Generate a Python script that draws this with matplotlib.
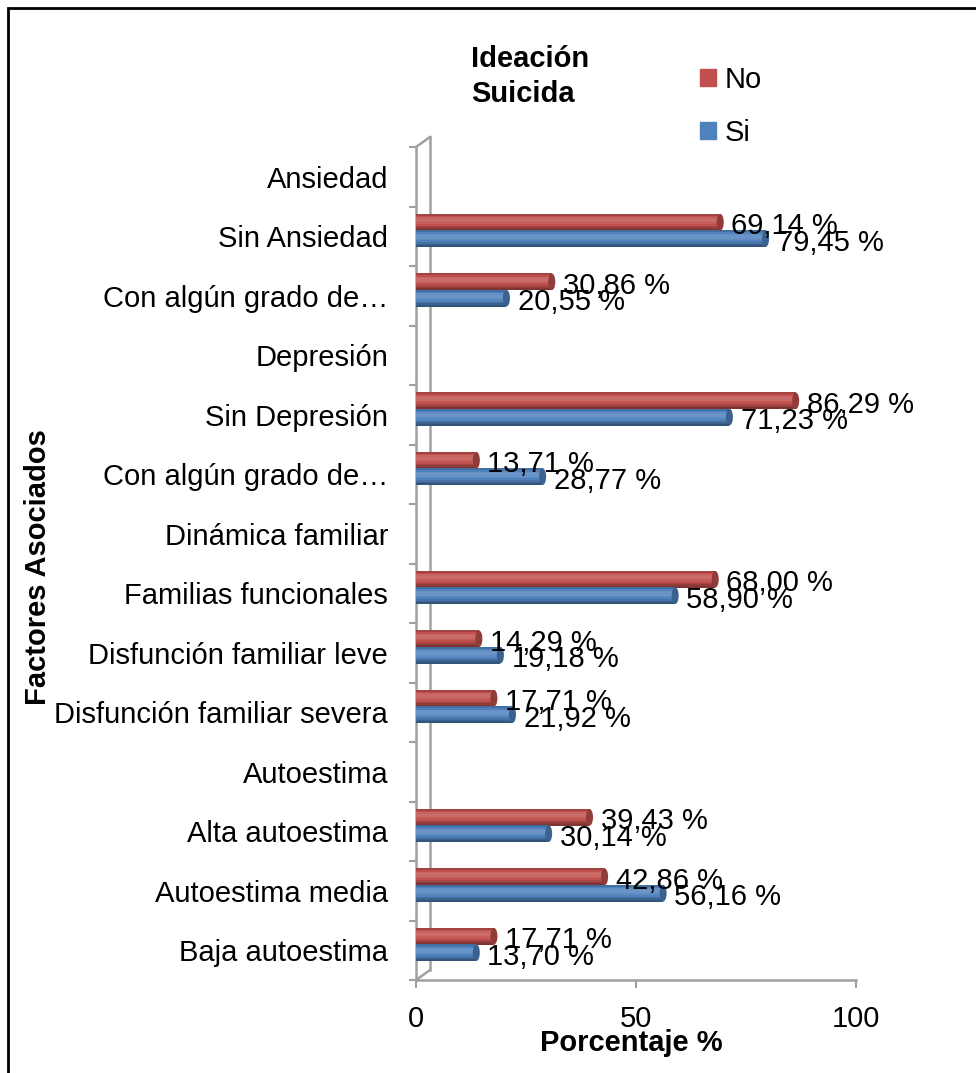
import matplotlib.pyplot as plt
import matplotlib.colors as mcolors
import matplotlib.transforms as mtransforms
from matplotlib.patches import Rectangle, Ellipse
from matplotlib.lines import Line2D
import numpy as np

plt.rcParams['font.family'] = ['Liberation Sans', 'DejaVu Sans']
FS = 21

# data (top to bottom as in the chart)
categories = ['Ansiedad', 'Sin Ansiedad', 'Con algún grado de…', 'Depresión',
              'Sin Depresión', 'Con algún grado de…', 'Dinámica familiar',
              'Familias funcionales', 'Disfunción familiar leve',
              'Disfunción familiar severa', 'Autoestima', 'Alta autoestima',
              'Autoestima media', 'Baja autoestima']
no_vals = [np.nan, 69.14, 30.86, np.nan, 86.29, 13.71, np.nan, 68.00, 14.29,
           17.71, np.nan, 39.43, 42.86, 17.71]
si_vals = [np.nan, 79.45, 20.55, np.nan, 71.23, 28.77, np.nan, 58.90, 19.18,
           21.92, np.nan, 30.14, 56.16, 13.70]
x_ticks = [0, 50, 100]

RED = '#C0504D'
BLUE = '#4F81BD'
GRAY = '#A0A0A0'

W, H = 976, 1073
fig = plt.figure(figsize=(W / 100, H / 100), dpi=100)

# axes in pixel geometry
x0, x100 = 416, 856
ytop, ybot = 147, 980
ax = fig.add_axes([x0 / W, 1 - ybot / H, (x100 - x0) / W, (ybot - ytop) / H])
n = len(categories)
ypos = np.arange(n)[::-1]
ax.set_xlim(0, 100)
ax.set_ylim(-0.5, n - 0.5)


def shade(color, f):
    r = np.array(mcolors.to_rgb(color))
    if f >= 0:
        return tuple(r + (1 - r) * f)
    return tuple(r * (1 + f))


def cylinder(vals, yc, color, h=0.28):
    vals = np.array(vals, dtype=float)
    ok = ~np.isnan(vals)
    v = vals[ok]
    y = yc[ok]
    # horizontal slices from bottom (dark) to top (light), top edge a bit darker
    prof = [-0.35, -0.25, -0.12, 0.0, 0.08, 0.14, 0.16, 0.12, 0.0, -0.15]
    k = len(prof)
    for j, f in enumerate(prof):
        yy = y - h / 2 + (j + 0.5) * h / k
        ax.barh(yy, v, height=h / k * 1.05, color=shade(color, f),
                linewidth=0, zorder=3)
    # end caps
    for vi, yi in zip(v, y):
        ax.add_patch(Ellipse((vi, yi), 1.6, h, facecolor=shade(color, -0.25),
                             edgecolor='none', zorder=4))
    return v, y


rv, ry = cylinder(no_vals, ypos + 0.235, RED)
bv, by = cylinder(si_vals, ypos - 0.04, BLUE)

for v, y in list(zip(rv, ry)) + list(zip(bv, by)):
    ax.annotate(f'{v:.2f} %'.replace('.', ','), (v, y), xytext=(8, -3),
                textcoords='offset points', ha='left', va='center',
                fontsize=FS, zorder=6)

# axes styling
for s in ax.spines.values():
    s.set_visible(False)
ax.set_yticks(ypos)
ax.set_yticklabels(categories, fontsize=FS)
ax.tick_params(axis='y', length=0, pad=20)
ax.set_yticks(np.arange(n + 1) - 0.5, minor=True)
ax.tick_params(axis='y', which='minor', length=5, color=GRAY, width=1.5)
ax.set_xticks(x_ticks)
ax.set_xticklabels([str(t) for t in x_ticks], fontsize=FS)
ax.tick_params(axis='x', length=6, color=GRAY, width=1.5, pad=12)

# 3D wall and floor
off = mtransforms.offset_copy(ax.transAxes, fig=fig, x=14, y=10, units='dots')
kw = dict(color=GRAY, lw=1.8, clip_on=False, zorder=2)
dx, dy = 14 / (x100 - x0), 10 / (ybot - ytop)
ax.add_line(Line2D([0, 0], [0, 1], transform=ax.transAxes, **kw))
ax.add_line(Line2D([0, 0], [0, 1], transform=off, **kw))
ax.add_line(Line2D([0, 1], [0, 0], transform=ax.transAxes, **kw))
ax.add_line(Line2D([0, dx], [1, 1 + dy], transform=ax.transAxes, **kw))
ax.add_line(Line2D([0, dx], [0, dy], transform=ax.transAxes, **kw))

# axis titles
fig.text(38 / W, 1 - 567 / H, 'Factores Asociados', rotation=90, fontsize=FS,
         fontweight='bold', ha='center', va='center')
fig.text(631 / W, 1 - 1043 / H, 'Porcentaje %', fontsize=FS,
         fontweight='bold', ha='center', va='center')

# legend
fig.text(471 / W, 1 - 45 / H, 'Ideación\nSuicida', fontsize=FS,
         fontweight='bold', ha='left', va='top', linespacing=1.3)
handles = [Rectangle((0, 0), 1, 1, color=RED), Rectangle((0, 0), 1, 1, color=BLUE)]
fig.legend(handles, ['No', 'Si'], loc='upper left',
           bbox_to_anchor=(694 / W, 1 - 60 / H), frameon=False, fontsize=FS,
           handlelength=0.55, handleheight=0.55, handletextpad=0.3,
           labelspacing=0.85, borderaxespad=0, borderpad=0.2)

# outer frame
fig.add_artist(Rectangle((8 / W, -0.1), 1.2, 1 - 8 / H + 0.1,
                         transform=fig.transFigure, fill=False,
                         edgecolor='black', lw=2))

fig.savefig('out.png', dpi=100)
